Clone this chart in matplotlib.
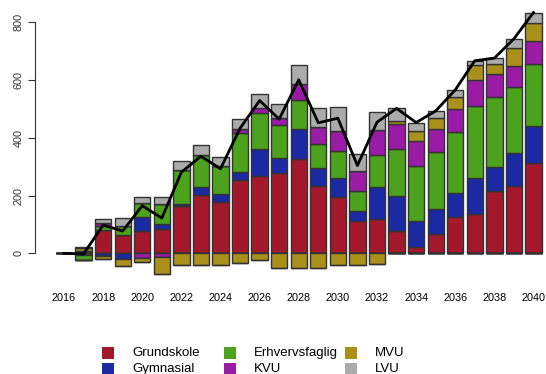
import matplotlib
matplotlib.use("Agg")
import matplotlib.pyplot as plt
import numpy as np
from matplotlib.patches import Rectangle

plt.rcParams['font.family'] = ['Liberation Sans', 'DejaVu Sans']

years = np.arange(2016, 2041)

# contribution per education group (negative values stacked downward)
grundskole = [0, -6, 81, 63, 78, 83, 164, 202, 179, 254, 269, 277, 326, 234, 196,
              113, 119, 77, 21, 66, 127, 135, 217, 233, 312]
gymnasial = [0, 5, -11, -21, 47, 18, 7, 27, 25, 29, 92, 54, 104, 61, 66,
             34, 110, 123, 92, 88, 81, 125, 83, 113, 130]
erhvervsfaglig = [0, -17, 14, 31, 48, 70, 117, 110, 99, 133, 126, 114, 101, 84, 94,
                  69, 112, 161, 190, 198, 211, 250, 243, 229, 213]
kvu = [0, 3, 11, 0, -17, -14, 0, 0, 0, 14, 15, 23, 55, 60, 69,
       70, 86, 87, 87, 78, 81, 90, 78, 75, 82]
mvu = [0, 9, -9, -23, -12, -58, -40, -40, -40, -32, -23, -52, -52, -50, -40,
       -40, -37, 12, 35, 38, 43, 52, 34, 60, 62]
lvu = [0, 4, 12, 27, 21, 23, 33, 37, 30, 35, 50, 49, 67, 63, 83,
       58, 64, 42, 28, 25, 23, 15, 21, 33, 35]

labels = ["Grundskole", "Gymnasial", "Erhvervsfaglig", "KVU", "MVU", "LVU"]
colors = ["#A3182B", "#1B2AA2", "#4DA21D", "#9A1BA6", "#A8901B", "#ABABAB"]
series = [grundskole, gymnasial, erhvervsfaglig, kvu, mvu, lvu]

fig = plt.figure(figsize=(5.46, 3.74), dpi=100)
ax = fig.add_axes([0.0641, 0.2532, 0.9359, 0.7334])

width = 0.833
pos_base = np.zeros(len(years))
neg_base = np.zeros(len(years))
for vals, col in zip(series, colors):
    v = np.array(vals, dtype=float)
    pos = np.clip(v, 0, None)
    neg = np.clip(v, None, 0)
    ax.bar(years, pos, bottom=pos_base, width=width, color=col,
           edgecolor="#333333", linewidth=1.0)
    ax.bar(years, neg, bottom=neg_base, width=width, color=col,
           edgecolor="#333333", linewidth=1.0)
    pos_base += pos
    neg_base += neg

total = np.sum(np.array(series, dtype=float), axis=0)
ax.plot(years, total, color="black", linewidth=2.0, zorder=5)

ax.set_xlim(2014.517, 2040.64)
ax.set_ylim(-90, 860)
for s in ["top", "right", "bottom"]:
    ax.spines[s].set_visible(False)
ax.spines["left"].set_bounds(0, 800)
ax.spines["left"].set_color("#333333")
ax.set_yticks([0, 200, 400, 600, 800])
ax.set_yticklabels(["0", "200", "400", "600", "800"], rotation=90, va="center")
ax.tick_params(axis="y", length=5, pad=3, labelsize=7.8, colors="#333333")
ax.set_xticks(years[::2])
ax.set_xticklabels([str(y) for y in years[::2]])
ax.tick_params(axis="x", length=0, pad=10, labelsize=7.8)

# legend in three fixed-width columns below the plot
for i, (lab, col) in enumerate(zip(labels, colors)):
    c, r = divmod(i, 2)
    x0 = 102 + c * 121.5
    yc = 353 + r * 16
    fig.patches.append(Rectangle((x0 / 546, 1 - (yc + 6) / 374), 12 / 546, 12 / 374,
                                 transform=fig.transFigure, facecolor=col,
                                 edgecolor="none"))
    fig.text((x0 + 30) / 546, 1 - yc / 374, lab, fontsize=9.5,
             va="center", ha="left")

fig.savefig("out.png", dpi=100)
